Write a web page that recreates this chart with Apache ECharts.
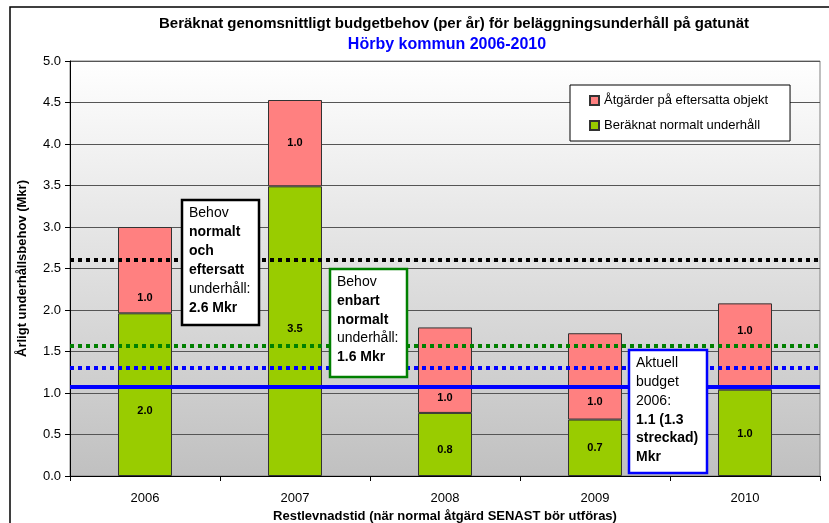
<!DOCTYPE html>
<html><head><meta charset="utf-8">
<script src="https://cdn.jsdelivr.net/npm/echarts@6/dist/echarts.min.js"></script>
<style>html,body{margin:0;padding:0;background:#fff}#c{width:829px;height:523px}</style>
</head><body><div id="c"></div>
<script>
const categories = ['2006', '2007', '2008', '2009', '2010'];
const normalUpkeep = [1.96, 3.49, 0.76, 0.68, 1.04];
const deferredWork = [1.04, 1.04, 1.03, 1.04, 1.04];
const yTicks = [0, 0.5, 1, 1.5, 2, 2.5, 3, 3.5, 4, 4.5, 5];
const needBoth = 2.61;      // black dotted
const needNormal = 1.575;   // green dotted
const budgetDashed = 1.30;  // blue dotted
const budgetSolid = 1.07;   // blue solid

const seriesNames = ['Åtgärder på eftersatta objekt', 'Beräknat normalt underhåll'];
const FONT = 'Liberation Sans, Arial, sans-serif';
const greenShift = [16, -2, 6, 0, 1];
const pinkShift = [28, 0, 28, 26, -16];

const chart = echarts.init(document.getElementById('c'), null, {renderer: 'canvas'});

const lbl = {show: true, position: 'inside', color: '#000', fontFamily: FONT, fontWeight: 'bold', fontSize: 11,
  formatter: p => (Math.round(Number(p.value) * 10) / 10).toFixed(1)};

function refLine(v, color, dashed) {
  return {yAxis: v, lineStyle: {color: color, width: 4, type: dashed ? [4, 4] : 'solid'}};
}

function box(x, y, w, h, color, lines, lh) {
  const txt = lines.map(l => '{' + (l[1] ? 'b' : 'n') + '|' + l[0] + '}').join('\n');
  return {
    type: 'group', x: x, y: y, z: 100,
    children: [
      {type: 'rect', z: 100, shape: {x: 0, y: 0, width: w, height: h},
       style: {fill: '#fff', stroke: color, lineWidth: 2.5}},
      {type: 'text', z: 101, x: 7, y: 4, style: {text: txt, fill: '#000',
        rich: {n: {fontFamily: FONT, fontSize: 14, lineHeight: lh, fill: '#000'},
               b: {fontFamily: FONT, fontSize: 14, fontWeight: 'bold', lineHeight: lh, fill: '#000'}}}}
    ]
  };
}

chart.setOption({
  animation: false,
  backgroundColor: '#fff',
  title: [{
    text: 'Beräknat genomsnittligt budgetbehov (per år) för beläggningsunderhåll på gatunät',
    left: 449, top: 11, textAlign: 'center',
    textStyle: {fontFamily: FONT, fontSize: 15, fontWeight: 'bold', color: '#000'}
  }, {
    text: 'Hörby kommun 2006-2010',
    left: 442, top: 32, textAlign: 'center',
    textStyle: {fontFamily: FONT, fontSize: 16, fontWeight: 'bold', color: '#0000ff'}
  }],
  legend: {
    data: seriesNames, orient: 'vertical', left: 570, top: 85,
    backgroundColor: '#fff', borderColor: '#000', borderWidth: 1,
    padding: [9, 22, 9, 19], itemGap: 12, itemWidth: 9, itemHeight: 9,
    textStyle: {fontFamily: FONT, fontSize: 13, color: '#000'},
    icon: 'rect'
  },
  grid: {left: 70, right: 9, top: 61, bottom: 47, show: true, containLabel: false,
    outerBoundsMode: 'none',
    borderColor: '#808080', borderWidth: 1,
    backgroundColor: {type: 'linear', x: 0, y: 0, x2: 0, y2: 1,
      colorStops: [{offset: 0, color: '#ffffff'}, {offset: 1, color: '#c0c0c0'}]}},
  xAxis: {
    type: 'category', data: categories,
    name: 'Restlevnadstid (när normal åtgärd SENAST bör utföras)',
    nameLocation: 'middle', nameGap: 32,
    nameTextStyle: {fontFamily: FONT, fontSize: 13, fontWeight: 'bold', color: '#000'},
    axisLine: {lineStyle: {color: '#000', width: 1}},
    axisTick: {show: true, length: 5, lineStyle: {color: '#000'}},
    axisLabel: {fontFamily: FONT, fontSize: 13, color: '#000', margin: 16}
  },
  yAxis: {
    type: 'value', min: yTicks[0], max: yTicks[yTicks.length - 1], interval: 0.5,
    name: 'Årligt underhållsbehov (Mkr)', nameLocation: 'middle', nameGap: 41,
    nameTextStyle: {fontFamily: FONT, fontSize: 13, fontWeight: 'bold', color: '#000'},
    axisLine: {show: true, lineStyle: {color: '#000', width: 1}},
    axisTick: {show: true, length: 5, lineStyle: {color: '#000'}},
    axisLabel: {fontFamily: FONT, fontSize: 13, color: '#000', margin: 9, formatter: v => v.toFixed(1)},
    splitLine: {lineStyle: {color: '#555', width: 1}}
  },
  series: [
    {
      name: seriesNames[1], type: 'bar', stack: 'tot', barWidth: '36%',
      itemStyle: {color: '#99cc00', borderColor: '#333', borderWidth: 1},
      label: lbl,
      data: normalUpkeep.map((v, i) => ({value: v, label: {offset: [0, greenShift[i]]}})),
      markLine: {
        silent: true, symbol: 'none', label: {show: false},
        data: [refLine(needBoth, '#000', true), refLine(needNormal, '#008000', true),
               refLine(budgetDashed, '#0000ff', true), refLine(budgetSolid, '#0000ff', false)]
      }
    },
    {
      name: seriesNames[0], type: 'bar', stack: 'tot', barWidth: '36%',
      itemStyle: {color: '#ff8080', borderColor: '#333', borderWidth: 1},
      label: lbl,
      data: deferredWork.map((v, i) => ({value: v, label: {offset: [0, pinkShift[i]]}}))
    }
  ],
  graphic: [
    {type: 'rect', z: 0, shape: {x: 10, y: 7, width: 840, height: 540},
     style: {fill: 'none', stroke: '#000', lineWidth: 1.5}},
    box(182, 200, 77, 125, '#000', [['Behov', 0], ['normalt', 1], ['och', 1], ['eftersatt', 1], ['underhåll:', 0], ['2.6 Mkr', 1]], 19),
    box(330, 269, 77, 108, '#008000', [['Behov', 0], ['enbart', 1], ['normalt', 1], ['underhåll:', 0], ['1.6 Mkr', 1]], 18.7),
    box(629, 350, 78, 123, '#0000ff', [['Aktuell', 0], ['budget', 0], ['2006:', 0], ['1.1 (1.3', 1], ['streckad)', 1], ['Mkr', 1]], 18.8)
  ]
});
</script></body></html>
